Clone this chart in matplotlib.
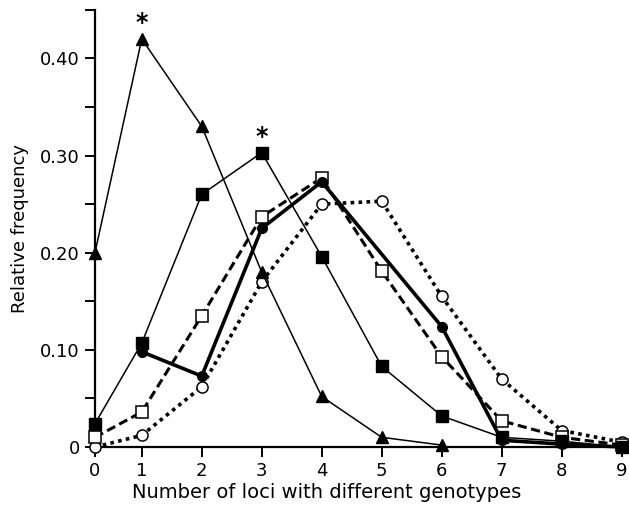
import numpy as np
import matplotlib
matplotlib.use("Agg")
import matplotlib.pyplot as plt

# Relative frequency of number of loci with different genotypes
x_tri = [0, 1, 2, 3, 4, 5, 6]
y_tri = [0.20, 0.42, 0.33, 0.18, 0.052, 0.01, 0.002]

x_fsq = [0, 1, 2, 3, 4, 5, 6, 7, 8, 9]
y_fsq = [0.024, 0.107, 0.26, 0.303, 0.196, 0.083, 0.032, 0.01, 0.006, 0.0]

x_fci = [1, 2, 3, 4, 6, 7, 8, 9]
y_fci = [0.098, 0.073, 0.225, 0.273, 0.124, 0.007, 0.003, 0.0]

x_osq = [0, 1, 2, 3, 4, 5, 6, 7, 8, 9]
y_osq = [0.01, 0.036, 0.135, 0.237, 0.277, 0.181, 0.093, 0.027, 0.01, 0.002]

x_oci = [0, 1, 2, 3, 4, 5, 6, 7, 8, 9]
y_oci = [0.0, 0.012, 0.062, 0.17, 0.25, 0.253, 0.155, 0.07, 0.017, 0.005]

# starred peaks (x, y)
stars_x = [1, 3]
stars_y = [0.42, 0.303]

xticks = list(range(10))
yticks = [0, 0.1, 0.2, 0.3, 0.4]
ytick_labels = ["0", "0.10", "0.20", "0.30", "0.40"]


# the original axis has a shorter gap between 0 and 1
def fwd(x):
    x = np.asarray(x, dtype=float)
    return np.where(x < 1, 0.22 + 0.78 * x, x)


def inv(y):
    y = np.asarray(y, dtype=float)
    return np.where(y < 1, (y - 0.22) / 0.78, y)


fig = plt.figure(figsize=(6.29, 5.15), dpi=100)
ax = fig.add_axes([0.151, 0.132, 0.843, 0.849])
ax.set_xscale("function", functions=(fwd, inv))

ax.plot(x_oci, y_oci, color="black", linestyle=(0, (1, 1.2)), linewidth=2.6,
        marker="o", markersize=8, markerfacecolor="white", markeredgewidth=1.1, zorder=3)
ax.plot(x_osq, y_osq, color="black", linestyle=(0, (3, 1.5)), linewidth=2.2,
        marker="s", markersize=8, markerfacecolor="white", markeredgewidth=1.1, zorder=4)
ax.plot(x_fci, y_fci, color="black", linestyle="-", linewidth=2.6,
        marker="o", markersize=7, markerfacecolor="black", zorder=5)
ax.plot(x_fsq, y_fsq, color="black", linestyle="-", linewidth=1.1,
        marker="s", markersize=8, markerfacecolor="black", zorder=6)
ax.plot(x_tri, y_tri, color="black", linestyle="-", linewidth=1.1,
        marker="^", markersize=8, markerfacecolor="black", zorder=7)

for sx, sy in zip(stars_x, stars_y):
    ax.text(sx, sy + 0.004, "*", ha="center", va="bottom", fontsize=17,
            fontweight="bold")

ax.set_xlim(0, 9.06)
ax.set_ylim(0, 0.45)
ax.set_xticks(xticks)
ax.set_xticklabels([str(v) for v in xticks])
ax.set_yticks(yticks)
ax.set_yticklabels(ytick_labels)
ax.set_yticks(np.arange(0.05, 0.46, 0.1), minor=True)
ax.xaxis.set_minor_locator(matplotlib.ticker.NullLocator())

for s in ["top", "right"]:
    ax.spines[s].set_visible(False)
for s in ["left", "bottom"]:
    ax.spines[s].set_linewidth(1.6)

ax.tick_params(axis="both", which="major", direction="out", length=7, width=1.4,
               labelsize=13, pad=4)
ax.tick_params(axis="y", which="minor", direction="out", length=7, width=1.4)
for lab in ax.get_xticklabels():
    lab.set_clip_on(False)

ax.set_xlabel("Number of loci with different genotypes", fontsize=14)
ax.xaxis.set_label_coords(0.437, -0.105)
ax.xaxis.label.set_va("center")
ax.set_ylabel("Relative frequency", fontsize=13, labelpad=8)

for line in ax.lines:
    line.set_clip_on(False)

fig.savefig("out.png", dpi=100)
